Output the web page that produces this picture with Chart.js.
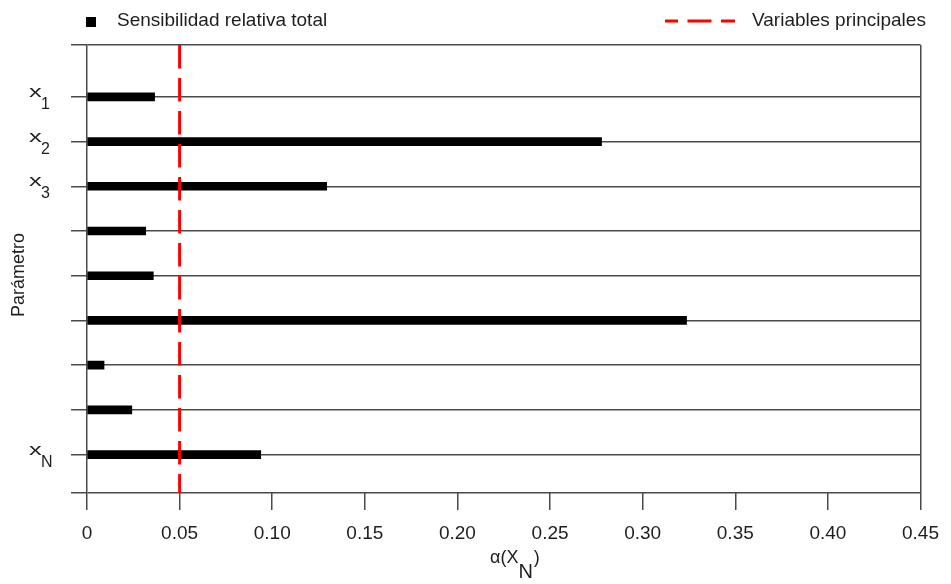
<!DOCTYPE html>
<html>
<head>
<meta charset="utf-8">
<script src="https://cdn.jsdelivr.net/npm/chart.js@4/dist/chart.umd.min.js"></script>
<style>
  body { margin: 0; background: #fff; }
  canvas { display: block; }
</style>
</head>
<body>
<canvas id="chart" width="951" height="584"></canvas>
<script>
// parameter rows, top to bottom (first char is the symbol, the rest is the subscript)
const paramNames = ['x1', 'x2', 'x3', '', '', '', '', '', 'xN'];
const sensitivity = [0.0365, 0.2778, 0.1294, 0.0317, 0.0358, 0.3237, 0.0092, 0.0242, 0.0938];
const threshold = 0.05;
const xTickValues = [0, 0.05, 0.10, 0.15, 0.20, 0.25, 0.30, 0.35, 0.40, 0.45];
const xTickLabels = ['0', '0.05', '0.10', '0.15', '0.20', '0.25', '0.30', '0.35', '0.40', '0.45'];
const barLabel = 'Sensibilidad relativa total';
const lineLabel = 'Variables principales';

const FONT = "'Liberation Sans', Arial, sans-serif";
const GRID = '#4a4a4a';
const TEXT = '#1e1e1e';

// row positions on the value axis, with the frame a bit further above the first row
const rows = paramNames.map((_, i) => i + 1);
const yTop = -0.16;
const yBottom = rows.length + 0.86;

const textPlugin = {
    id: 'textPlugin',
    afterDraw(chart) {
        const ctx = chart.ctx;
        const yScale = chart.scales.y;
        ctx.save();
        ctx.fillStyle = TEXT;
        ctx.textBaseline = 'alphabetic';
        ctx.textAlign = 'left';

        // row labels with subscripts
        paramNames.forEach((name, i) => {
            if (!name) return;
            const py = yScale.getPixelForValue(rows[i]);
            ctx.save();
            ctx.translate(29, py);
            ctx.scale(1.5, 1);
            ctx.font = '17px ' + FONT;
            ctx.fillText(name[0], 0, 0);
            ctx.restore();
            ctx.font = '16px ' + FONT;
            ctx.fillText(name.slice(1), 41, py + 12);
        });

        // y title
        ctx.save();
        ctx.translate(19, 275);
        ctx.rotate(-Math.PI / 2);
        ctx.textAlign = 'center';
        ctx.textBaseline = 'middle';
        ctx.font = '18px ' + FONT;
        ctx.fillText('Parámetro', 0, 0);
        ctx.restore();

        // x title: α(X_N)
        let tx = 490;
        ctx.font = '18px ' + FONT;
        ctx.fillText('α(X', tx, 563);
        tx += ctx.measureText('α(X').width;
        ctx.font = '20px ' + FONT;
        ctx.fillText('N', tx, 578);
        tx += ctx.measureText('N').width + 1;
        ctx.font = '18px ' + FONT;
        ctx.fillText(')', tx, 563);

        // legend
        ctx.fillStyle = '#000';
        ctx.fillRect(86, 17, 10, 10);
        ctx.fillStyle = TEXT;
        ctx.font = '19px ' + FONT;
        ctx.fillText(barLabel, 117, 26);
        ctx.fillText(lineLabel, 752, 26);

        ctx.strokeStyle = '#ff0000';
        ctx.lineWidth = 3;
        ctx.setLineDash([24, 9.5]);
        ctx.lineDashOffset = 11;
        ctx.beginPath();
        ctx.moveTo(665, 21);
        ctx.lineTo(735, 21);
        ctx.stroke();
        ctx.restore();
    }
};

new Chart(document.getElementById('chart'), {
    type: 'bar',
    data: {
        datasets: [
            {
                label: lineLabel,
                type: 'line',
                data: [{ x: threshold, y: yTop }, { x: threshold, y: yBottom }],
                borderColor: '#ff0000',
                borderWidth: 3,
                borderDash: [23.5, 9.5],
                pointRadius: 0,
                fill: false,
                order: 0
            },
            {
                label: barLabel,
                data: sensitivity.map((v, i) => ({ x: v, y: rows[i] })),
                backgroundColor: '#000',
                barThickness: 8,
                order: 1
            }
        ]
    },
    options: {
        indexAxis: 'y',
        responsive: false,
        animation: false,
        layout: { padding: { top: 45, right: 22, left: 0, bottom: 0 } },
        plugins: {
            legend: { display: false },
            tooltip: { enabled: false }
        },
        scales: {
            x: {
                type: 'linear',
                min: 0,
                max: 0.45,
                afterBuildTicks: scale => {
                    scale.ticks = xTickValues.map(value => ({ value }));
                },
                afterFit: scale => { scale.height = 91; },
                ticks: {
                    callback: (value, index) => xTickLabels[index],
                    font: { family: FONT, size: 19 },
                    color: TEXT,
                    padding: 12,
                    maxRotation: 0,
                    autoSkip: false
                },
                grid: {
                    // only the last tick is carried up as the right frame
                    color: ctx => ctx.index === xTickValues.length - 1 ? GRID : 'rgba(0,0,0,0)',
                    tickColor: GRID,
                    lineWidth: 1.5,
                    tickLength: 17
                },
                border: { display: false }
            },
            y: {
                type: 'linear',
                reverse: true,
                offset: false,
                min: yTop,
                max: yBottom,
                afterBuildTicks: scale => {
                    scale.ticks = [yTop, ...rows, yBottom].map(value => ({ value }));
                },
                afterFit: scale => { scale.width = 87; },
                ticks: { display: false },
                grid: {
                    offset: false,
                    color: GRID,
                    lineWidth: 1.5,
                    tickLength: 16
                },
                border: { display: true, color: GRID, width: 1.5 }
            }
        }
    },
    plugins: [textPlugin]
});
</script>
</body>
</html>
